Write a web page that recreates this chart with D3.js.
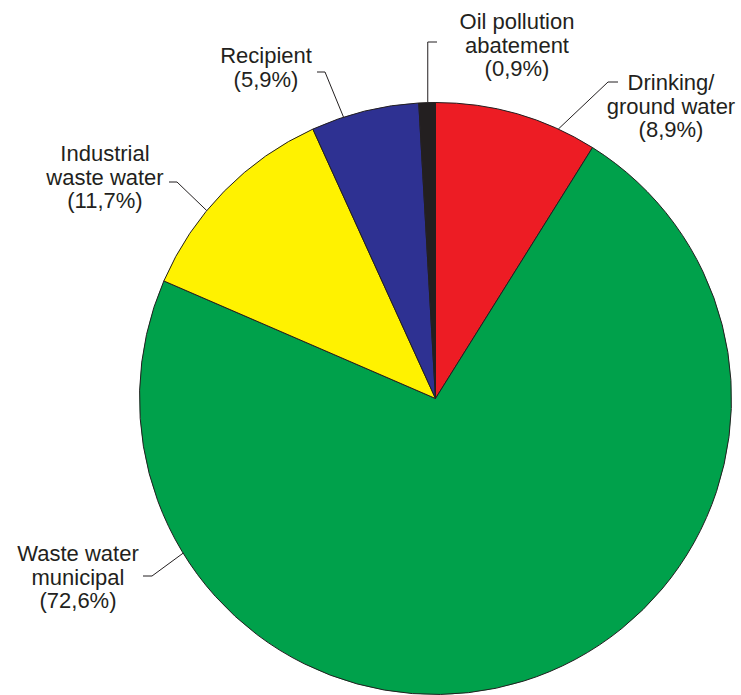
<!DOCTYPE html>
<html><head><meta charset="utf-8">
<script src="https://cdn.jsdelivr.net/npm/d3@7"></script>
<style>html,body{margin:0;padding:0;background:#fff;overflow:hidden}</style>
</head><body>
<svg id="chart" width="741" height="695"></svg>
<script>
const categories = ["Drinking/ground water", "Waste water municipal", "Industrial waste water", "Recipient", "Oil pollution abatement"];
const values = [8.9, 72.6, 11.7, 5.9, 0.9];
const labelLines = [
  ["Drinking/", "ground water", "(8,9%)"],
  ["Waste water", "municipal", "(72,6%)"],
  ["Industrial", "waste water", "(11,7%)"],
  ["Recipient", "(5,9%)"],
  ["Oil pollution", "abatement", "(0,9%)"]
];
const colors = ["#ed1c24", "#00a14b", "#fff200", "#2e3192", "#231f20"];

// layout: anchor angle (deg, clockwise from top) on the rim, elbow, end of tick, text centre & first baseline
const layout = [
  {ang: 24.5,   elbow: [608, 82],  end: [618, 82],  tx: 671, ty: 90},
  {ang: -121.5, elbow: [152, 576], end: [143, 576], tx: 78,  ty: 561},
  {ang: -50.6,  elbow: [177, 182], end: [169, 182], tx: 105, ty: 161},
  {ang: -18.1,  elbow: [325, 72],  end: [317, 72],  tx: 266, ty: 63},
  {ang: -1.5,   elbow: null,       end: [437, 42],  tx: 517, ty: 29}
];

const cx = 435.5, cy = 398.5, R = 296;
const svg = d3.select("#chart");
const g = svg.append("g").attr("transform", `translate(${cx},${cy})`);

const pie = d3.pie().sort(null).value(d => d).startAngle(0).endAngle(2 * Math.PI);
const arc = d3.arc().innerRadius(0).outerRadius(R);
const arcs = pie(values);

g.selectAll("path.slice").data(arcs).join("path")
  .attr("class", "slice")
  .attr("d", arc)
  .attr("fill", (d, i) => colors[i])
  .attr("stroke", "#231f20")
  .attr("stroke-width", 1)
  .attr("stroke-linejoin", "round");

// leader lines and labels
layout.forEach((L, i) => {
  const a = L.ang * Math.PI / 180;
  const p = d3.pointRadial(a, R);
  const rim = [cx + p[0], cy + p[1]];
  const pts = L.elbow ? [rim, L.elbow, L.end] : [rim, [rim[0], L.end[1]], L.end];
  svg.append("path")
    .attr("d", d3.line()(pts))
    .attr("fill", "none")
    .attr("stroke", "#231f20")
    .attr("stroke-width", 1);
  const t = svg.append("text")
    .attr("x", L.tx).attr("y", L.ty)
    .attr("text-anchor", "middle")
    .attr("font-family", "Liberation Sans, Arial, sans-serif")
    .attr("font-size", 22)
    .attr("fill", "#231f20");
  labelLines[i].forEach((s, k) => {
    t.append("tspan").attr("x", L.tx).attr("y", L.ty + k * 23.5).text(s);
  });
});
</script>
</body></html>
